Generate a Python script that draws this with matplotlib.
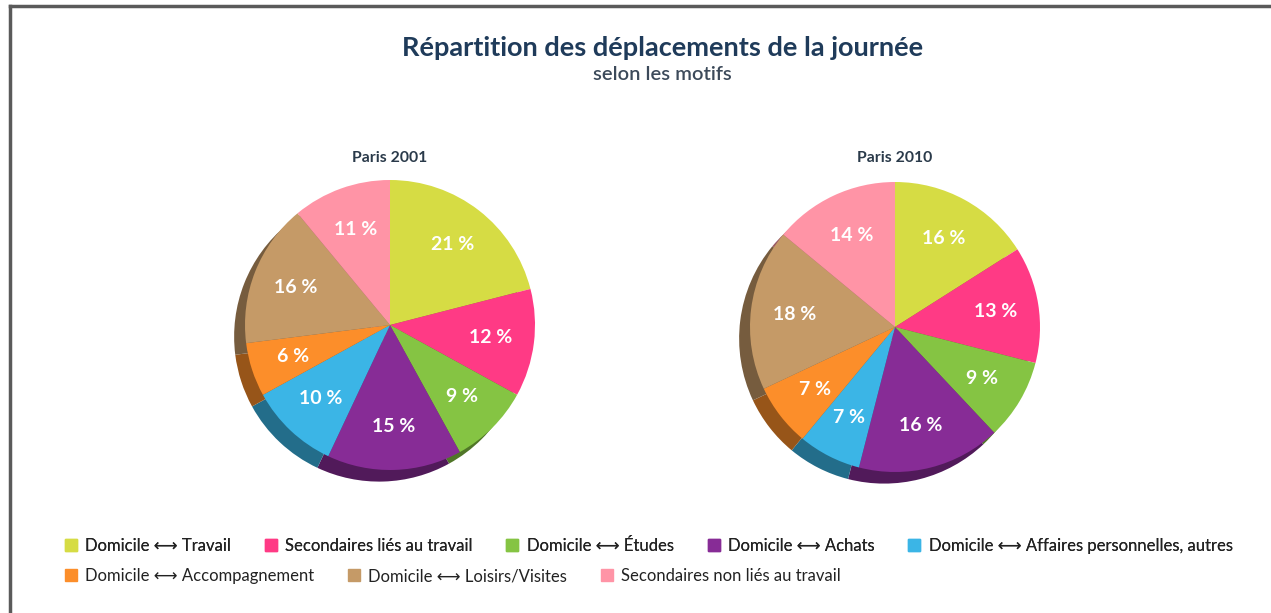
import numpy as np
import matplotlib.pyplot as plt
from matplotlib.lines import Line2D
from matplotlib.colors import to_rgb

plt.rcParams['font.family'] = ['Lato', 'DejaVu Sans']

# data
motifs = ["Domicile \u27f7 Travail", "Secondaires liés au travail", "Domicile \u27f7 Études",
          "Domicile \u27f7 Achats", "Domicile \u27f7 Affaires personnelles, autres",
          "Domicile \u27f7 Accompagnement", "Domicile \u27f7 Loisirs/Visites",
          "Secondaires non liés au travail"]
paris_2001 = [21, 12, 9, 15, 10, 6, 16, 11]
paris_2010 = [16, 13, 9, 16, 7, 7, 18, 14]
years = ["Paris 2001", "Paris 2010"]

couleurs = ["#d6dc44", "#ff3a85", "#85c443", "#872c96", "#3bb5e6",
            "#fc8e2a", "#c59a67", "#ff94a6"]
sombres = [tuple(0.6 * c for c in to_rgb(col)) for col in couleurs]

W, H = 1271, 613
fig = plt.figure(figsize=(W / 100, H / 100), dpi=100)

# frame lines top and left
fig.add_artist(Line2D([9.5 / W, 1], [1 - 6 / H, 1 - 6 / H], color="#5a5a5a", lw=2.5))
fig.add_artist(Line2D([9.5 / W, 9.5 / W], [0, 1 - 6 / H], color="#5a5a5a", lw=2.5))

fig.text(0.5215, 1 - 48 / H, "Répartition des déplacements de la journée",
         ha="center", va="center", fontsize=19.5, fontweight="bold", color="#1f3b5a")
fig.text(0.5215, 1 - 75 / H, "selon les motifs", ha="center", va="center",
         fontsize=14.5, fontweight="semibold", color="#3c4a5a")

r_px = 145
half = 1.25 * r_px
centres = [(390, 325), (895, 327)]

for (cx, cy), vals, an in zip(centres, [paris_2001, paris_2010], years):
    ax = fig.add_axes([(cx - half) / W, (H - cy - half) / H, 2 * half / W, 2 * half / H])
    ax.pie(vals, colors=sombres, startangle=90, counterclock=False,
           center=(-0.075, -0.08), radius=1)
    wedges, texts, autotexts = ax.pie(vals, colors=couleurs, startangle=90, counterclock=False,
                                      center=(0, 0), radius=1, pctdistance=0.7,
                                      autopct=lambda p: f"{p:.0f} %")
    for t in autotexts:
        t.set_color("white")
        t.set_fontsize(14)
        t.set_fontweight("bold")
    ax.set_xlim(-1.25, 1.25)
    ax.set_ylim(-1.25, 1.25)
    ax.set_aspect("equal")
    ax.axis("off")
    fig.text(cx / W, 1 - 158 / H, an, ha="center", va="center", fontsize=11.3,
             fontweight="bold", color="#2a3a4a")

handles = [Line2D([], [], marker="s", ls="none", markersize=8, color=c) for c in couleurs]
leg_kw = dict(loc="center left", frameon=False, fontsize=12, handlelength=0.8,
              handletextpad=0.45, columnspacing=2.0, borderpad=0, borderaxespad=0)
leg1 = fig.legend(handles[:5], motifs[:5], ncol=5, bbox_to_anchor=(64 / W, 1 - 546 / H), **leg_kw)
for t in leg1.get_texts():
    t.set_color("#222222")
leg2 = fig.legend(handles[5:], motifs[5:], ncol=3, bbox_to_anchor=(64 / W, 1 - 576 / H), **leg_kw)
for t in leg2.get_texts():
    t.set_color("#222222")
fig.add_artist(leg1)

fig.savefig("out.png", dpi=100)
